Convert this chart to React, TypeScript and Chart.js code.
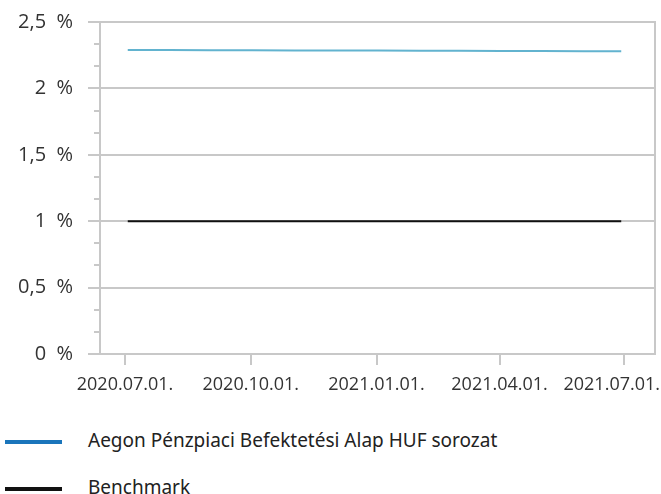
import React, { useEffect, useRef } from 'react';
import { Chart, registerables } from 'chart.js';

Chart.register(...registerables);

// ---- data ----
const X_TICK_DAYS = [0, 92, 184, 274, 365]; // days since 2020.07.01.
const X_TICK_LABELS = ['2020.07.01.', '2020.10.01.', '2021.01.01.', '2021.04.01.', '2021.07.01.'];
const Y_TICKS = [0, 0.5, 1, 1.5, 2, 2.5];
const DAYS = [2, 32, 63, 93, 124, 154, 185, 216, 244, 275, 305, 336, 363];
const FUND = [2.29, 2.29, 2.288, 2.287, 2.286, 2.286, 2.285, 2.284, 2.283, 2.282, 2.281, 2.28, 2.28];
const BENCH = [1.0, 1.0, 1.0, 1.0, 1.0, 1.0, 1.0, 1.0, 1.0, 1.0, 1.0, 1.0, 1.0];
const SERIES_NAMES = ['Aegon Pénzpiaci Befektetési Alap HUF sorozat', 'Benchmark'];

const GRID = '#c8c8c8';
const TEXT = '#333333';
const FUND_LINE = '#62b3cf';
const FUND_LEGEND = '#1a75bb';
const BENCH_LINE = '#111111';

export default function App() {
  const ref = useRef<HTMLCanvasElement>(null);

  useEffect(() => {
    document.body.style.margin = '0';
    const canvas = ref.current!;
    const overlay = {
      id: 'overlay',
      afterDraw(chart: any) {
        const { ctx, chartArea: a, scales } = chart;
        const x = scales.x;
        const y = scales.y;
        ctx.save();
        ctx.strokeStyle = GRID;
        ctx.lineWidth = 2;
        ctx.beginPath();
        ctx.moveTo(a.right, a.top - 1);
        ctx.lineTo(a.right, a.bottom + 1);
        ctx.stroke();
        for (let i = 0; i < Y_TICKS.length - 1; i++) {
          for (const f of [1 / 3, 2 / 3]) {
            const v = Y_TICKS[i] + (Y_TICKS[i + 1] - Y_TICKS[i]) * f;
            const py = Math.round(y.getPixelForValue(v));
            ctx.beginPath();
            ctx.moveTo(a.left - 6, py);
            ctx.lineTo(a.left, py);
            ctx.stroke();
          }
        }
        ctx.font = '18px "Open Sans"';
        ctx.fillStyle = TEXT;
        ctx.textBaseline = 'alphabetic';
        ctx.textAlign = 'left';
        X_TICK_DAYS.forEach((d, i) => {
          const t = X_TICK_LABELS[i];
          const w = ctx.measureText(t).width;
          let px = x.getPixelForValue(d) - w / 2;
          px = Math.min(px, chart.width - w - 1);
          ctx.fillText(t, px, a.bottom + 35.5);
        });
        ctx.restore();
      },
    };

    const chart = new Chart(canvas, {
      type: 'line',
      data: {
        datasets: [
          {
            label: SERIES_NAMES[0],
            data: DAYS.map((d, i) => ({ x: d, y: FUND[i] })),
            borderColor: FUND_LINE,
            borderWidth: 2,
            pointRadius: 0,
            tension: 0,
          },
          {
            label: SERIES_NAMES[1],
            data: DAYS.map((d, i) => ({ x: d, y: BENCH[i] })),
            borderColor: BENCH_LINE,
            borderWidth: 2,
            pointRadius: 0,
            tension: 0,
          },
        ],
      },
      options: {
        responsive: false,
        animation: false,
        devicePixelRatio: 1,
        layout: { padding: { top: 22, right: 6, bottom: 0, left: 0 } },
        plugins: { legend: { display: false }, tooltip: { enabled: false } },
        scales: {
          x: {
            type: 'linear',
            min: -18.3,
            max: 387.7,
            afterBuildTicks: (s: any) => {
              s.ticks = X_TICK_DAYS.map((v) => ({ value: v }));
            },
            afterFit: (s: any) => {
              s.height = 46;
              s.paddingLeft = 0;
              s.paddingRight = 0;
            },
            ticks: {
              color: 'rgba(0,0,0,0)',
              autoSkip: false,
              maxRotation: 0,
              font: { family: 'Open Sans', size: 18 },
              callback: (v: any) => {
                const i = X_TICK_DAYS.indexOf(Number(v));
                return i >= 0 ? X_TICK_LABELS[i] : '';
              },
            },
            grid: { drawOnChartArea: false, tickLength: 11, color: GRID, lineWidth: 2 },
            border: { color: GRID, width: 2 },
          },
          y: {
            min: 0,
            max: 2.5,
            afterFit: (s: any) => {
              s.width = 100;
              s.paddingTop = 0;
              s.paddingBottom = 0;
            },
            ticks: {
              stepSize: 0.5,
              padding: 15,
              color: TEXT,
              font: { family: 'Open Sans', size: 20 },
              callback: (v: any) => String(v).replace('.', ',') + '  %',
            },
            grid: { color: GRID, lineWidth: 2, tickLength: 12, tickColor: GRID },
            border: { color: GRID, width: 2 },
          },
        },
      },
      plugins: [overlay],
    });
    return () => chart.destroy();
  }, []);

  const legendText: React.CSSProperties = {
    position: 'absolute',
    left: 88,
    fontFamily: '"Noto Sans"',
    fontSize: 19,
    lineHeight: '26px',
    color: '#222',
    whiteSpace: 'nowrap',
  };

  return (
    <div style={{ position: 'fixed', left: 0, top: 0, width: 661, height: 494, background: '#fff', overflow: 'hidden' }}>
      <canvas ref={ref} width={661} height={400} style={{ display: 'block', width: 661, height: 400 }} />
      <div style={{ position: 'absolute', left: 5, top: 440, width: 57, height: 4, background: FUND_LEGEND }} />
      <div style={{ ...legendText, top: 427 }}>{SERIES_NAMES[0]}</div>
      <div style={{ position: 'absolute', left: 5, top: 487, width: 57, height: 4, background: BENCH_LINE }} />
      <div style={{ ...legendText, top: 474 }}>{SERIES_NAMES[1]}</div>
    </div>
  );
}
